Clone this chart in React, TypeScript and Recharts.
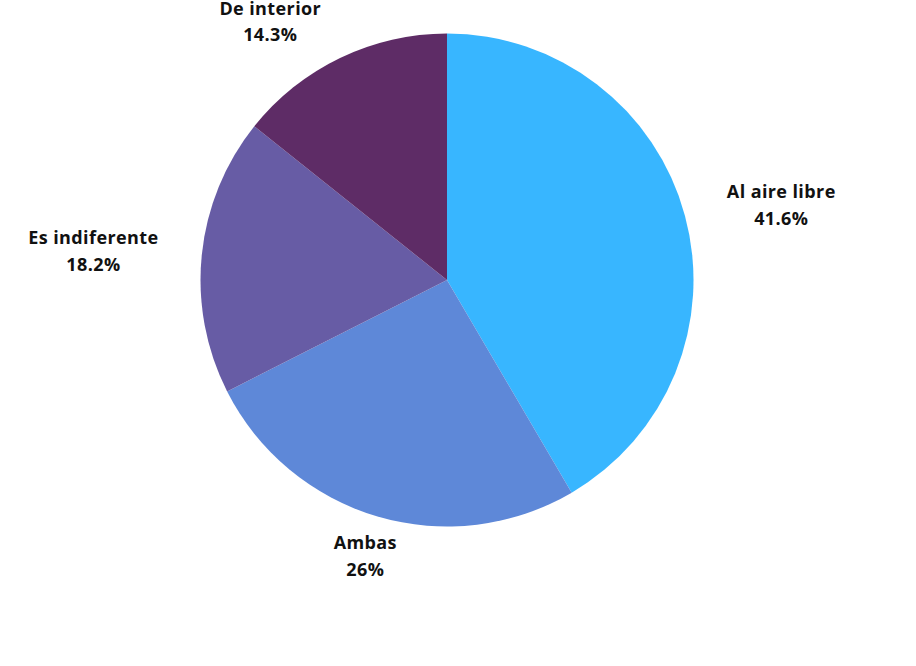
import { Cell, Pie, PieChart } from "recharts";

const CATEGORIES = ["Al aire libre", "Ambas", "Es indiferente", "De interior"];
const VALUES = [41.6, 26, 18.2, 14.3];
const COLORS = ["#38B6FF", "#5E88D8", "#675CA5", "#5E2C66"];

const data = CATEGORIES.map((name, i) => ({ name, value: VALUES[i] }));

const RAD = Math.PI / 180;
const FONT = "'Open Sans', sans-serif";
const FONT_SIZE = 18;
const SPACING = 0.4;

let ctx: CanvasRenderingContext2D | null = null;
function textWidth(s: string) {
  if (!ctx) ctx = document.createElement("canvas").getContext("2d");
  if (!ctx) return s.length * 10;
  ctx.font = `700 ${FONT_SIZE}px ${FONT}`;
  return ctx.measureText(s).width + SPACING * s.length;
}

function renderLabel(props: any) {
  const { cx, cy, midAngle, outerRadius, name, value } = props;
  const r = outerRadius + 43.5;
  const cos = Math.cos(-midAngle * RAD);
  const sin = Math.sin(-midAngle * RAD);
  const x = cx + r * cos;
  const y = cy + r * sin;
  const line2 = `${value}%`;
  const w = Math.max(textWidth(name), textWidth(line2));
  let tx = x;
  if (Math.abs(cos) >= 0.35) tx = cos > 0 ? x + w / 2 : x - w / 2;
  // first baseline sits a bit above the anchor point, more so for bottom labels
  const baseY = y - 6.3 - 2.8 * sin;
  return (
    <text
      x={tx}
      y={baseY}
      textAnchor="middle"
      fill="#111111"
      fontFamily={FONT}
      fontWeight={700}
      fontSize={FONT_SIZE}
      letterSpacing={SPACING}
    >
      <tspan x={tx}>{name}</tspan>
      <tspan x={tx} dy={26.5}>
        {line2}
      </tspan>
    </text>
  );
}

export default function App() {
  return (
    <div style={{ width: 916, height: 666, background: "#fff" }}>
      <style>{`body{margin:0}`}</style>
      <PieChart width={916} height={666} margin={{ top: 0, right: 0, bottom: 0, left: 0 }}>
        <Pie
          data={data}
          dataKey="value"
          nameKey="name"
          cx={447}
          cy={280}
          outerRadius={246.5}
          startAngle={90}
          endAngle={-270}
          stroke="none"
          label={renderLabel}
          labelLine={false}
          isAnimationActive={false}
        >
          {data.map((d, i) => (
            <Cell key={d.name} fill={COLORS[i]} />
          ))}
        </Pie>
      </PieChart>
    </div>
  );
}
